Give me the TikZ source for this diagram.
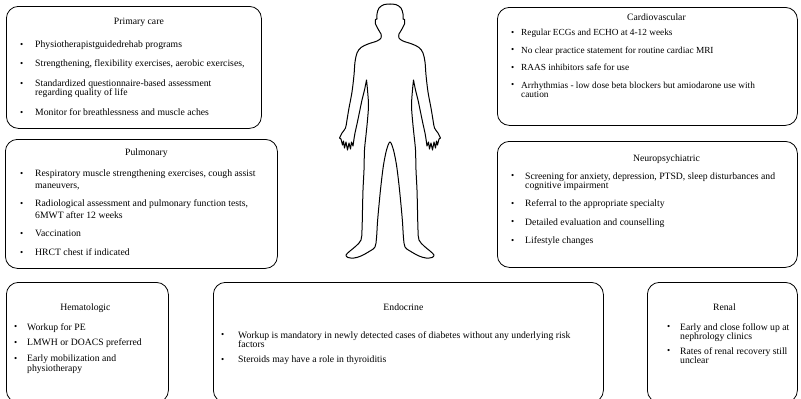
\documentclass[tikz,border=0pt]{standalone}
\usepackage{fontspec}
\setmainfont{Liberation Serif}
\usepackage{tikz}
\usetikzlibrary{positioning}

\newlength{\bulwd}
\setlength{\bulwd}{13pt}
\newcommand{\bul}{\makebox[\bulwd][l]{\raisebox{0.2pt}{\fontsize{9}{9}\selectfont\textbullet}}}
\newcommand{\bulind}{\hspace*{\bulwd}}

\tikzstyle{panel} = [draw=black, line width=0.8pt, rounded corners=12pt, anchor=north west, inner sep=0pt]
\tikzstyle{heading} = [inner sep=0pt, font=\fontsize{9.7}{9}\selectfont]
\tikzstyle{points} = [anchor=north west, inner sep=0pt, align=left, font=\fontsize{9.7}{9}\selectfont]
\tikzstyle{outline} = [line width=1pt, line join=round, line cap=round]
\tikzset{bulletgap/.style={execute at begin node={\setlength{\bulwd}{#1}}}}

\begin{document}
\begin{tikzpicture}[x=1pt, y=-1pt]
        \useasboundingbox (0,0) rectangle (801,399);
        \clip (0,0) rectangle (801,399);

        % Panels
        \node (prim) [panel, minimum width=255pt, minimum height=122pt] at (6,6) {};
        \node (pulm) [panel, minimum width=272pt, minimum height=129pt] at (5,139) {};
        \node (hema) [panel, minimum width=162pt, minimum height=120pt] at (6,282) {};
        \node (endo) [panel, minimum width=390pt, minimum height=120pt] at (213,282) {};
        \node (card) [panel, minimum width=300pt, minimum height=118pt] at (497,7) {};
        \node (neur) [panel, minimum width=300pt, minimum height=126pt] at (497,141) {};
        \node (rena) [panel, minimum width=150pt, minimum height=120pt] at (647,282) {};

        % Headings
        \node (primT) [heading, below=12pt of prim.north, xshift=5pt] {Primary care};
        \node (pulmT) [heading, below=10pt of pulm.north, xshift=5pt] {Pulmonary};
        \node (hemaT) [heading, below=22pt of hema.north, xshift=-2pt] {Hematologic};
        \node (endoT) [heading, below=22pt of endo.north, xshift=-5pt] {Endocrine};
        \node (cardT) [heading, below=7pt of card.north, xshift=9pt] {Cardiovascular};
        \node (neurT) [heading, below=14pt of neur.north, xshift=19pt] {Neuropsychiatric};
        \node (renaT) [heading, below=22pt of rena.north, xshift=2pt] {Renal};

        % Lists
        \node (primL) [points, bulletgap=15pt, below right=35pt and 14pt of prim.north west] {%
            \bul Physiotherapistguidedrehab programs\\[10pt]
            \bul Strengthening, flexibility exercises, aerobic exercises,\\[11pt]
            \bul Standardized questionnaire-based assessment\\
            \bulind regarding quality of life\\[11pt]
            \bul Monitor for breathlessness and muscle aches};
        \node (pulmL) [points, bulletgap=15pt, font=\fontsize{9.7}{12}\selectfont,
            below right=31pt and 15pt of pulm.north west] {%
            \bul Respiratory muscle strengthening exercises, cough assist\\
            \bulind maneuvers,\\[6pt]
            \bul Radiological assessment and pulmonary function tests,\\
            \bulind 6MWT after 12 weeks\\[6pt]
            \bul Vaccination\\[7pt]
            \bul HRCT chest if indicated};
        \node (hemaL) [points, bulletgap=13pt, font=\fontsize{9.7}{8.5}\selectfont,
            below right=41pt and 8pt of hema.north west] {%
            \bul Workup for PE\\[6pt]
            \bul LMWH or DOACS preferred\\[5.5pt]
            \bul Early mobilization and\\
            \bulind physiotherapy};
        \node (endoL) [points, bulletgap=17pt, font=\fontsize{9.7}{8.5}\selectfont,
            below right=49pt and 8pt of endo.north west] {%
            \bul Workup is mandatory in newly detected cases of diabetes without any underlying risk\\
            \bulind factors\\[6pt]
            \bul Steroids may have a role in thyroiditis};
        \node (cardL) [points, bulletgap=10pt, font=\fontsize{9.3}{9}\selectfont,
            below right=22pt and 14pt of card.north west] {%
            \bul Regular ECGs and ECHO at 4-12 weeks\\[8.5pt]
            \bul No clear practice statement for routine cardiac MRI\\[8.5pt]
            \bul RAAS inhibitors safe for use\\[8.5pt]
            \bul Arrhythmias - low dose beta blockers but amiodarone use with\\
            \bulind caution};
        \node (neurL) [points, bulletgap=14pt,
            below right=31pt and 14pt of neur.north west] {%
            \bul Screening for anxiety, depression, PTSD, sleep disturbances and\\
            \bulind cognitive impairment\\[9.5pt]
            \bul Referral to the appropriate specialty\\[9.5pt]
            \bul Detailed evaluation and counselling\\[9.5pt]
            \bul Lifestyle changes};
        \node (renaL) [points, bulletgap=13pt, font=\fontsize{9.7}{9}\selectfont,
            below right=41pt and 20pt of rena.north west] {%
            \bul Early and close follow up at\\
            \bulind nephrology clinics\\[6pt]
            \bul Rates of renal recovery still\\
            \bulind unclear};

        % Body outline, right half then mirrored
        \foreach \side in {1,-1} {
        \draw[outline, xshift=390pt, xscale=\side]
            plot[smooth, tension=0.55] coordinates {(0,4) (6,4.6) (11,8) (13,14) (13,19)
                (14.5,19.5) (14.5,24) (12.5,28) (10.5,31.5) (9,34) (9,38) (13,41) (22,44)
                (29,47.5) (33,53) (35,62) (36,75) (38,92) (41,108) (43,120) (44.5,128)
                (48,133) (50.5,138)}
            -- (49,139) -- (47.5,145) -- (46.5,141) -- (45.5,148) -- (44,142) -- (42.5,150)
            -- (41,143) -- (39.5,149) -- (38.5,142) -- (37,146) -- (36,139)
            -- plot[smooth, tension=0.55] coordinates {(36,139) (35,133) (33,124) (30.5,112)
                (28,100) (25.5,90) (23.5,80)}
            -- plot[smooth, tension=0.55] coordinates {(23.5,80) (22.5,90) (21.5,105)
                (22.5,120) (24,135) (25.5,150) (26,170) (27,190) (27.5,210) (28,230)
                (29,240) (34,246) (40,251) (44,255) (42,257.5) (36,258) (29,256) (20,251)
                (15,247) (13.5,238) (12.5,222) (11,205) (9,185) (6.5,165) (3.5,150)
                (1,143) (0,142)};
        }
\end{tikzpicture}
\end{document}
